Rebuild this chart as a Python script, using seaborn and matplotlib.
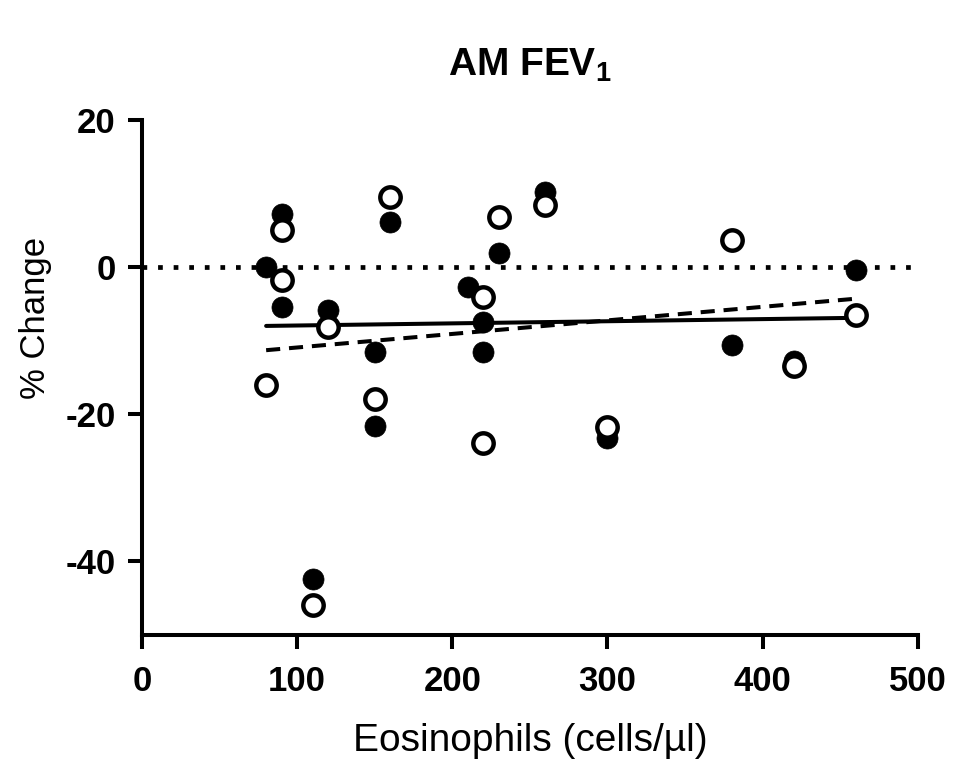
import matplotlib
matplotlib.use("Agg")
import matplotlib.pyplot as plt
import seaborn as sns
import pandas as pd

# Data
filled_x = [80, 90, 90, 110, 120, 150, 150, 160, 210, 220, 220, 230, 260, 300, 380, 420, 460]
filled_y = [0.0, 7.2, -5.4, -42.4, -5.8, -11.5, -21.6, 6.1, -2.7, -7.5, -11.5, 1.9, 10.2, -23.2, -10.6, -12.8, -0.4]
open_x = [80, 90, 90, 110, 120, 150, 160, 220, 220, 230, 260, 300, 380, 420, 460]
open_y = [-16.0, 5.1, -1.8, -46.0, -8.1, -18.0, 9.5, -4.1, -23.9, 6.8, 8.4, -21.7, 3.7, -13.5, -6.5]
fit_x = [80, 460]
solid_fit_y = [-8.0, -6.9]
dashed_fit_y = [-11.3, -4.3]

x_ticks = [0, 100, 200, 300, 400, 500]
y_ticks = [-40, -20, 0, 20]

sns.set_style("ticks")
plt.rcParams['font.family'] = ['Liberation Sans', 'DejaVu Sans']
plt.rcParams['mathtext.fontset'] = 'custom'
plt.rcParams['mathtext.rm'] = 'Liberation Sans'
plt.rcParams['mathtext.bf'] = 'Liberation Sans:bold'
plt.rcParams['text.color'] = 'black'
plt.rcParams['axes.labelcolor'] = 'black'
plt.rcParams['xtick.color'] = 'black'
plt.rcParams['ytick.color'] = 'black'

fig = plt.figure(figsize=(9.55, 7.64), dpi=100)
ax = fig.add_axes([0.1487, 0.169, 0.8123, 0.674])

df_f = pd.DataFrame({"x": filled_x, "y": filled_y})
df_o = pd.DataFrame({"x": open_x, "y": open_y})
df_s = pd.DataFrame({"x": fit_x, "y": solid_fit_y})
df_d = pd.DataFrame({"x": fit_x, "y": dashed_fit_y})

ax.axhline(0, color="black", linestyle=(0, (1, 2.3)), linewidth=3.4, zorder=1)
sns.lineplot(data=df_s, x="x", y="y", ax=ax, color="black", linewidth=2.9, zorder=2)
sns.lineplot(data=df_d, x="x", y="y", ax=ax, color="black", linewidth=2.9,
             linestyle=(0, (3.5, 2.2)), zorder=2)
sns.scatterplot(data=df_f, x="x", y="y", ax=ax, color="black", s=230,
                edgecolor="black", linewidth=0.5, zorder=3)
sns.scatterplot(data=df_o, x="x", y="y", ax=ax, facecolor="white", s=215,
                edgecolor="black", linewidth=3.2, zorder=4)

ax.set_xlim(0, 500)
ax.set_ylim(-50, 20)
ax.set_xticks(x_ticks)
ax.set_yticks(y_ticks)
ax.set_xticklabels([str(t) for t in x_ticks], fontsize=25, fontweight="bold")
ax.set_yticklabels([str(t) for t in y_ticks], fontsize=25, fontweight="bold")
ax.tick_params(axis="x", width=2.9, length=10, direction="out", pad=12, color="black")
ax.tick_params(axis="y", width=2.9, length=10, direction="out", pad=9, color="black")

for side in ["top", "right"]:
    ax.spines[side].set_visible(False)
for side in ["left", "bottom"]:
    ax.spines[side].set_linewidth(2.9)
    ax.spines[side].set_color("black")

ax.set_xlabel("Eosinophils (cells/µl)", fontsize=28, labelpad=18)
ax.set_ylabel("% Change", fontsize=25)
ax.yaxis.set_label_coords(-0.116, 0.615)
ax.set_title(r"AM FEV$_\mathbf{1}$", fontsize=28, fontweight="bold", pad=32)

fig.savefig("out.png", dpi=100)
